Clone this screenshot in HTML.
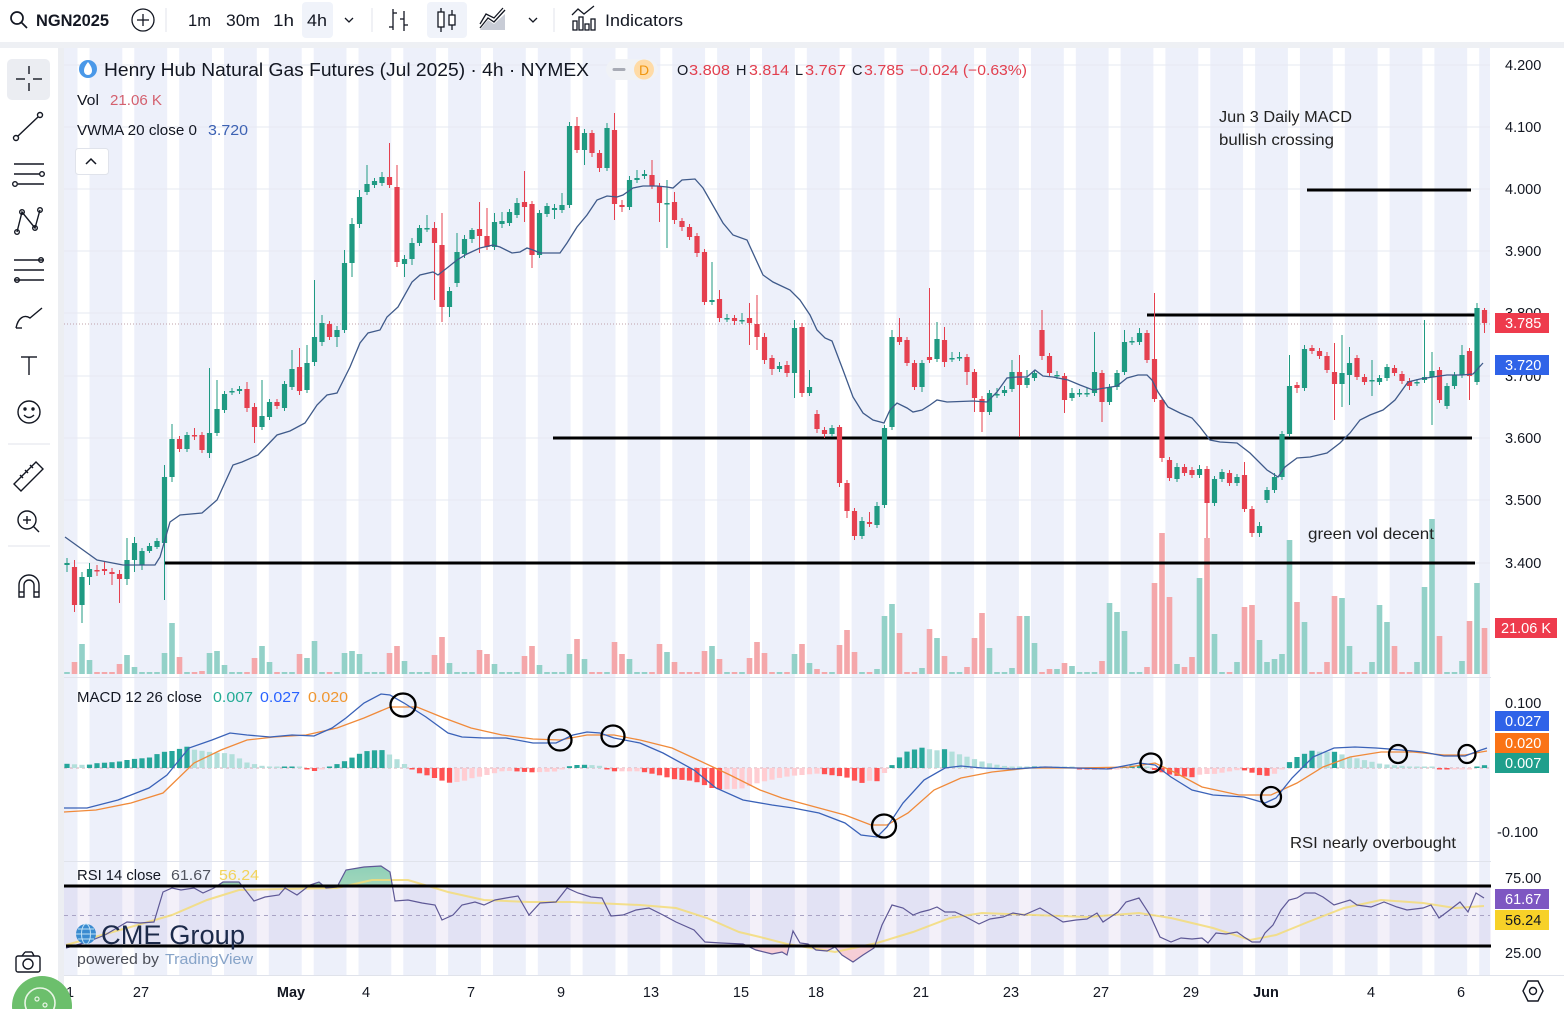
<!DOCTYPE html>
<html><head><meta charset="utf-8"><style>
html,body{margin:0;padding:0;background:#fff;}
body{width:1564px;height:1009px;overflow:hidden;font-family:"Liberation Sans",sans-serif;}
svg text{font-family:"Liberation Sans",sans-serif;}
</style></head><body>
<svg id="s" xmlns="http://www.w3.org/2000/svg" width="1564" height="1009" viewBox="0 0 1564 1009">
<defs>
<clipPath id="cpAbove"><rect x="60" y="840" width="1440" height="45.5"/></clipPath>
<clipPath id="cpBelow"><rect x="60" y="945.5" width="1440" height="40"/></clipPath>
<linearGradient id="gOB" x1="0" y1="0" x2="0" y2="1"><stop offset="0" stop-color="#8fd0b8"/><stop offset="1" stop-color="#e6f1c8"/></linearGradient>
<linearGradient id="gOS" x1="0" y1="0" x2="0" y2="1"><stop offset="0" stop-color="#f1e3ee"/><stop offset="1" stop-color="#f6ccd4"/></linearGradient>
</defs>
<rect x="0" y="0" width="1564" height="1009" fill="#ffffff"/>
<rect x="64" y="48" width="1426" height="927" fill="#edf0fa"/>
<g id="stripes"></g>
<rect x="58" y="48" width="6" height="961" fill="#eceef2"/>
<rect x="64" y="885.5" width="1428" height="60" fill="#7e57c2" fill-opacity="0.09"/>
<g stroke="#e6e9f2" stroke-width="1">
<line x1="64" y1="65" x2="1490" y2="65"/><line x1="64" y1="127" x2="1490" y2="127"/>
<line x1="64" y1="189" x2="1490" y2="189"/><line x1="64" y1="251" x2="1490" y2="251"/>
<line x1="64" y1="313" x2="1490" y2="313"/><line x1="64" y1="376" x2="1490" y2="376"/>
<line x1="64" y1="438" x2="1490" y2="438"/><line x1="64" y1="500" x2="1490" y2="500"/>
<line x1="64" y1="563" x2="1490" y2="563"/>
</g>
<line x1="64" y1="677.5" x2="1564" y2="677.5" stroke="#e0e3eb" stroke-width="1"/>
<line x1="64" y1="861.5" x2="1564" y2="861.5" stroke="#e0e3eb" stroke-width="1"/>
<line x1="64" y1="975.5" x2="1564" y2="975.5" stroke="#e0e3eb" stroke-width="1"/>
<g id="vol"></g>
<g stroke="#000" stroke-width="3">
<line x1="1307" y1="190" x2="1471" y2="190"/>
<line x1="1147" y1="315" x2="1475" y2="315"/>
<line x1="553" y1="438" x2="1472" y2="438"/>
<line x1="165" y1="563" x2="1475" y2="563"/>
</g>
<line x1="64" y1="324" x2="1490" y2="324" stroke="#bfa0aa" stroke-width="1" stroke-dasharray="1 2"/>
<g id="candles"></g>
<polyline id="vwma" fill="none" stroke="#3f5a8a" stroke-width="1.3"/>
<line x1="64" y1="768" x2="1490" y2="768" stroke="#d4a9b3" stroke-width="1" stroke-dasharray="3 3"/>
<g id="hist"></g>
<polyline id="sig" fill="none" stroke="#f08a3a" stroke-width="1.3"/>
<polyline id="macd" fill="none" stroke="#3a62b8" stroke-width="1.3"/>
<g fill="none" stroke="#000" stroke-width="2.3">
<ellipse cx="403" cy="705" rx="12.5" ry="11.5"/>
<ellipse cx="560" cy="740" rx="11.5" ry="10.5"/>
<ellipse cx="613" cy="736" rx="11.5" ry="10.5"/>
<ellipse cx="884" cy="826" rx="12" ry="11.5"/>
<ellipse cx="1151" cy="763" rx="10.5" ry="9.5"/>
<ellipse cx="1271" cy="797" rx="10" ry="10"/>
<ellipse cx="1398" cy="754" rx="9" ry="9"/>
<ellipse cx="1467" cy="754" rx="8.5" ry="9"/>
</g>
<polygon id="rsiOB" fill="url(#gOB)" clip-path="url(#cpAbove)"/>
<polygon id="rsiOS" fill="url(#gOS)" clip-path="url(#cpBelow)"/>
<line x1="64" y1="915.5" x2="1490" y2="915.5" stroke="#a9a3c4" stroke-width="1" stroke-dasharray="4 4"/>
<polyline id="rsima" fill="none" stroke="#f3dc78" stroke-width="2" stroke-opacity="0.85"/>
<polyline id="rsi" fill="none" stroke="#5e5896" stroke-width="1.2"/>
<g stroke="#000" stroke-width="3">
<line x1="64" y1="886" x2="1495" y2="886"/>
<line x1="66" y1="946" x2="1492" y2="946"/>
</g>

<circle cx="88" cy="69" r="9" fill="#4a98e8"/>
<path d="M88 62 C85 66 84 68 84 71 A4 4 0 0 0 92 71 C92 68 91 66 88 62Z" fill="#fff"/>
<text x="104" y="76" font-size="18" fill="#131722" textLength="485" lengthAdjust="spacingAndGlyphs">Henry Hub Natural Gas Futures (Jul 2025) · 4h · NYMEX</text>
<rect x="606" y="59" width="52" height="21" rx="10.5" fill="#f0f2f6"/>
<line x1="614" y1="69.5" x2="624" y2="69.5" stroke="#a8abb5" stroke-width="3" stroke-linecap="round"/>
<circle cx="644" cy="69.5" r="10" fill="#ffdba6"/>
<text x="644" y="75" font-size="14" fill="#f0960f" text-anchor="middle">D</text>
<g font-size="14.5">
<text x="677" y="75" fill="#131722">O</text><text x="689" y="75" fill="#e2404f" textLength="41" lengthAdjust="spacingAndGlyphs">3.808</text>
<text x="736" y="75" fill="#131722">H</text><text x="749" y="75" fill="#e2404f" textLength="40" lengthAdjust="spacingAndGlyphs">3.814</text>
<text x="795" y="75" fill="#131722">L</text><text x="805" y="75" fill="#e2404f" textLength="41" lengthAdjust="spacingAndGlyphs">3.767</text>
<text x="852" y="75" fill="#131722">C</text><text x="864" y="75" fill="#e2404f" textLength="40" lengthAdjust="spacingAndGlyphs">3.785</text>
<text x="910" y="75" fill="#e2404f" textLength="117" lengthAdjust="spacingAndGlyphs">−0.024 (−0.63%)</text>
</g>
<text x="77" y="105" font-size="14.5" fill="#131722" textLength="22" lengthAdjust="spacingAndGlyphs">Vol</text>
<text x="110" y="105" font-size="14.5" fill="#d4606e" textLength="52" lengthAdjust="spacingAndGlyphs">21.06 K</text>
<text x="77" y="135" font-size="14.5" fill="#131722" textLength="120" lengthAdjust="spacingAndGlyphs">VWMA 20 close 0</text>
<text x="208" y="135" font-size="14.5" fill="#3d62b3" textLength="40" lengthAdjust="spacingAndGlyphs">3.720</text>
<rect x="75.5" y="148.5" width="33" height="26" rx="3" fill="#fff" stroke="#e0e3eb"/>
<polyline points="86,164 91,159 96,164" fill="none" stroke="#131722" stroke-width="1.5"/>

<text x="77" y="702" font-size="14.5" fill="#131722" textLength="125" lengthAdjust="spacingAndGlyphs">MACD 12 26 close</text>
<text x="213" y="702" font-size="14.5" fill="#22ab94" textLength="40" lengthAdjust="spacingAndGlyphs">0.007</text>
<text x="260" y="702" font-size="14.5" fill="#2962ff" textLength="40" lengthAdjust="spacingAndGlyphs">0.027</text>
<text x="308" y="702" font-size="14.5" fill="#f0962f" textLength="40" lengthAdjust="spacingAndGlyphs">0.020</text>
<text x="77" y="880" font-size="14.5" fill="#131722" textLength="84" lengthAdjust="spacingAndGlyphs">RSI 14 close</text>
<text x="171" y="880" font-size="14.5" fill="#50535e" textLength="40" lengthAdjust="spacingAndGlyphs">61.67</text>
<text x="219" y="880" font-size="14.5" fill="#f2d35b" textLength="40" lengthAdjust="spacingAndGlyphs">56.24</text>

<text x="1219" y="122" font-size="16" fill="#222" textLength="133" lengthAdjust="spacingAndGlyphs">Jun 3 Daily MACD</text>
<text x="1219" y="145" font-size="16" fill="#222" textLength="115" lengthAdjust="spacingAndGlyphs">bullish crossing</text>
<text x="1308" y="539" font-size="16" fill="#222" textLength="126" lengthAdjust="spacingAndGlyphs">green vol decent</text>
<text x="1290" y="848" font-size="16" fill="#222" textLength="166" lengthAdjust="spacingAndGlyphs">RSI nearly overbought</text>

<circle cx="86" cy="934" r="10" fill="#3a8bd0"/>
<g stroke="#bfe0f5" stroke-width="1" fill="none"><ellipse cx="86" cy="934" rx="4.5" ry="10"/><line x1="76" y1="934" x2="96" y2="934"/><line x1="78" y1="929" x2="94" y2="929"/><line x1="78" y1="939" x2="94" y2="939"/></g>
<text x="101" y="944" font-size="27" fill="#1c2a4a" textLength="144" lengthAdjust="spacingAndGlyphs">CME Group</text>
<text x="77" y="964" font-size="15" fill="#4a4d57" textLength="82" lengthAdjust="spacingAndGlyphs">powered by</text>
<text x="165" y="964" font-size="15" fill="#86a3c8" textLength="88" lengthAdjust="spacingAndGlyphs">TradingView</text>

<rect x="1491" y="48" width="73" height="927" fill="#fff"/>
<g font-size="14.5" fill="#131722">
<text x="1505" y="70">4.200</text><text x="1505" y="132">4.100</text><text x="1505" y="194">4.000</text>
<text x="1505" y="256">3.900</text><text x="1505" y="318">3.800</text><text x="1505" y="381">3.700</text>
<text x="1505" y="443">3.600</text><text x="1505" y="505">3.500</text><text x="1505" y="568">3.400</text>
<text x="1505" y="708">0.100</text><text x="1497" y="837">-0.100</text>
<text x="1505" y="883">75.00</text><text x="1505" y="958">25.00</text>
</g>
<g font-size="14.5" fill="#fff">
<rect x="1495" y="313" width="54" height="20" fill="#ee3b4d"/><text x="1505" y="328">3.785</text>
<rect x="1495" y="355" width="54" height="20" fill="#2f63e8"/><text x="1505" y="370">3.720</text>
<rect x="1495" y="618" width="62" height="20" fill="#ee3b4d"/><text x="1501" y="633">21.06 K</text>
<rect x="1495" y="711" width="54" height="20" fill="#2f63e8"/><text x="1505" y="726">0.027</text>
<rect x="1495" y="733" width="54" height="20" fill="#fa7316"/><text x="1505" y="748">0.020</text>
<rect x="1495" y="753" width="54" height="20" fill="#1f9f8c"/><text x="1505" y="768">0.007</text>
<rect x="1495" y="889" width="54" height="20" fill="#7e57c2"/><text x="1505" y="904">61.67</text>
<rect x="1495" y="910" width="54" height="20" fill="#f7d128"/><text x="1505" y="925" fill="#131722">56.24</text>
</g>

<rect x="64" y="976" width="1500" height="33" fill="#fff"/>
<g font-size="14.5" fill="#131722" text-anchor="middle">
<text x="70" y="997">1</text>
<text x="141" y="997">27</text><text x="291" y="997" font-weight="bold">May</text><text x="366" y="997">4</text>
<text x="471" y="997">7</text><text x="561" y="997">9</text><text x="651" y="997">13</text>
<text x="741" y="997">15</text><text x="816" y="997">18</text><text x="921" y="997">21</text>
<text x="1011" y="997">23</text><text x="1101" y="997">27</text><text x="1191" y="997">29</text>
<text x="1266" y="997" font-weight="bold">Jun</text><text x="1371" y="997">4</text><text x="1461" y="997">6</text>
</g>
<g fill="none" stroke="#131722" stroke-width="1.4">
<path d="M1528 981 L1538 981 L1543 991 L1538 1001 L1528 1001 L1523 991 Z"/><circle cx="1533" cy="991" r="3.5"/>
</g>

<rect x="0" y="0" width="1564" height="42" fill="#fff"/>
<rect x="0" y="42" width="1564" height="6" fill="#eef0f4"/>
<g fill="none" stroke="#131722" stroke-width="1.7">
<circle cx="17" cy="18" r="6"/><line x1="21.5" y1="22.5" x2="27" y2="28"/>
<circle cx="143" cy="20" r="11" stroke-width="1.3"/><line x1="137" y1="20" x2="149" y2="20" stroke-width="1.3"/><line x1="143" y1="14" x2="143" y2="26" stroke-width="1.3"/>
<polyline points="345,18 349,22 353,18" stroke-width="1.3"/>
<polyline points="529,18 533,22 537,18" stroke-width="1.3"/>
</g>
<text x="36" y="26" font-size="16.5" fill="#131722" font-weight="bold" textLength="73" lengthAdjust="spacingAndGlyphs">NGN2025</text>
<g stroke="#e0e3eb"><line x1="166" y1="8" x2="166" y2="32"/><line x1="372" y1="8" x2="372" y2="32"/><line x1="554" y1="8" x2="554" y2="32"/></g>
<rect x="302" y="2" width="31" height="36" rx="4" fill="#f0f3fa"/>
<rect x="427" y="2" width="40" height="36" rx="4" fill="#f0f3fa"/>
<g font-size="16.5" fill="#131722">
<text x="188" y="26" textLength="23" lengthAdjust="spacingAndGlyphs">1m</text>
<text x="226" y="26" textLength="34" lengthAdjust="spacingAndGlyphs">30m</text>
<text x="273" y="26" textLength="21" lengthAdjust="spacingAndGlyphs">1h</text>
<text x="307" y="26" textLength="20" lengthAdjust="spacingAndGlyphs">4h</text>
<text x="605" y="26" textLength="78" lengthAdjust="spacingAndGlyphs">Indicators</text>
</g>
<g fill="none" stroke="#131722" stroke-width="1.3">
<line x1="393" y1="9" x2="393" y2="30"/><line x1="389" y1="27" x2="393" y2="27"/><line x1="393" y1="13" x2="397" y2="13"/>
<line x1="404" y1="11" x2="404" y2="31"/><line x1="400" y1="19" x2="404" y2="19"/><line x1="404" y1="25" x2="408" y2="25"/>
<line x1="441" y1="8" x2="441" y2="32"/><rect x="438" y="12" width="6" height="15" fill="#fff"/>
<line x1="452" y1="10" x2="452" y2="30"/><rect x="449" y="15" width="6" height="10" fill="#fff"/>
<polyline points="480,28 488,18 494,22 505,10"/><polyline points="480,24 486,14 494,18 503,8"/>
<path d="M480 30 L505 30 L505 14 L494 24 L488 20 Z" fill="#c8ccd6" stroke="none"/>
<rect x="573" y="21" width="4" height="9"/><rect x="579" y="17" width="4" height="13"/><rect x="585" y="24" width="4" height="6"/><rect x="591" y="19" width="4" height="11"/>
<polyline points="572,15 578,9 584,14 594,6"/>
</g>

<rect x="0" y="48" width="58" height="961" fill="#fff"/>
<rect x="7" y="59" width="43" height="41" rx="5" fill="#ebedf2"/>
<g fill="none" stroke="#131722" stroke-width="1.4">
<line x1="29" y1="66" x2="29" y2="74"/><line x1="29" y1="83" x2="29" y2="91"/><line x1="16" y1="79" x2="25" y2="79"/><line x1="33" y1="79" x2="42" y2="79"/>
<line x1="18" y1="136" x2="38" y2="117"/><circle cx="16" cy="138" r="2.5"/><circle cx="40" cy="115" r="2.5"/>
<line x1="14" y1="164" x2="44" y2="164"/><line x1="14" y1="174" x2="40" y2="174"/><circle cx="42" cy="174" r="2.3"/><line x1="18" y1="184" x2="44" y2="184"/><circle cx="15" cy="184" r="2.3"/>
<polyline points="17,232 22,212 35,228 40,210"/><circle cx="17" cy="232" r="2.3"/><circle cx="22" cy="212" r="2.3"/><circle cx="35" cy="228" r="2.3"/><circle cx="40" cy="210" r="2.3"/>
<line x1="14" y1="260" x2="44" y2="260"/><line x1="14" y1="270" x2="44" y2="270"/><line x1="14" y1="280" x2="44" y2="280"/><circle cx="17" cy="280" r="2.3"/><circle cx="41" cy="260" r="2.3"/>
<path d="M16 328 C18 318 24 314 30 318 L42 308"/><path d="M16 328 L22 328"/>
<line x1="21" y1="357" x2="37" y2="357"/><line x1="29" y1="357" x2="29" y2="375"/>
<circle cx="29" cy="412" r="11"/><circle cx="25" cy="409" r="1" fill="#131722"/><circle cx="33" cy="409" r="1" fill="#131722"/><path d="M24 415 Q29 420 34 415"/>
<path d="M14 484 L36 462 L43 469 L21 491 Z"/><line x1="20" y1="475" x2="23" y2="478"/><line x1="25" y1="470" x2="28" y2="473"/><line x1="30" y1="465" x2="33" y2="468"/>
<circle cx="27" cy="520" r="9"/><line x1="33.5" y1="526.5" x2="39" y2="532"/><line x1="23" y1="520" x2="31" y2="520"/><line x1="27" y1="516" x2="27" y2="524"/>
<path d="M19 597 L19 585 A10 10 0 0 1 39 585 L39 597 L34 597 L34 585 A5 5 0 0 0 24 585 L24 597 Z"/><line x1="19" y1="592" x2="24" y2="592"/><line x1="34" y1="592" x2="39" y2="592"/>
<rect x="16" y="956" width="24" height="16" rx="2"/><circle cx="28" cy="964" r="5"/><line x1="22" y1="956" x2="25" y2="952"/><line x1="25" y1="952" x2="32" y2="952"/><line x1="32" y1="952" x2="34" y2="956"/>
</g>
<g stroke="#e0e3eb"><line x1="8" y1="444" x2="50" y2="444"/><line x1="8" y1="546" x2="50" y2="546"/></g>
<circle cx="42" cy="1006" r="30" fill="#6cbf6c"/>
<circle cx="40" cy="1003" r="15" fill="none" stroke="#e8f5e4" stroke-width="1.6"/>
<circle cx="37" cy="999" r="2" fill="none" stroke="#e8f5e4" stroke-width="1.2"/>
<circle cx="45" cy="1005" r="2" fill="none" stroke="#e8f5e4" stroke-width="1.2"/>
</svg>
<script>
(function(){
var NS='http://www.w3.org/2000/svg';
function el(t,a,p){var e=document.createElementNS(NS,t);for(var k in a)e.setAttribute(k,a[k]);p.appendChild(e);return e;}
function $(id){return document.getElementById(id);}
var st=$('stripes');
for(var n=-4;n<=29;n++){var c=218+44.83*n;var x0=c-6,x1=c+6;if(x1<64||x0>1490)continue;x0=Math.max(64,x0);x1=Math.min(1490,x1);
el('rect',{x:x0.toFixed(1),y:48,width:(x1-x0).toFixed(1),height:927,fill:'#ffffff'},st);}
var C=[[565,563,558,572],[567,605,560,612],[605,577,572,623],[577,569,563,585],[570,571,565,576],[569,571,562,575],[572,574,568,585],[574,579,570,603],[579,560,538,585],[560,543,537,572],
[565,551,548,570],[551,546,543,553],[547,541,538,549],[543,477,465,600],[477,439,424,482],[439,449,436,452],[449,435,432,452],[435,436,428,440],[435,450,432,453],[453,433,368,458],
[433,409,380,436],[410,394,391,413],[392,391,388,395],[391,389,386,394],[389,408,382,412],[407,427,403,443],[427,416,380,430],[417,402,399,420],[402,406,399,409],[408,384,381,411],
[387,369,350,390],[367,391,348,395],[390,363,345,393],[362,337,280,366],[342,323,315,346],[324,337,321,340],[337,330,326,347],[330,263,250,333],[263,224,218,277],[224,197,190,228],
[192,184,165,195],[185,181,178,188],[183,177,172,186],[177,185,143,188],[187,262,165,267],[264,259,255,277],[259,243,238,265],[243,228,225,246],[228,228,215,232],[228,243,222,300],
[245,307,213,322],[307,291,287,317],[283,252,233,287],[254,239,235,258],[239,230,228,243],[229,236,202,253],[236,247,208,250],[247,222,213,250],[224,221,212,228],[223,212,209,226],
[215,203,198,218],[202,207,171,222],[204,255,201,268],[255,213,210,258],[214,206,203,217],[210,208,204,219],[210,205,193,213],[205,126,122,208],[126,150,117,153],[150,133,129,165],
[133,153,130,157],[153,168,150,172],[168,128,123,171],[130,204,113,220],[205,207,200,212],[207,180,176,210],[180,178,170,183],[176,174,170,179],[175,186,160,189],[186,203,183,222],
[203,203,180,248],[202,220,192,224],[221,227,218,231],[227,237,224,240],[236,253,233,257],[252,302,249,305],[302,300,262,305],[299,318,290,322],[318,318,314,322],[318,321,315,325],
[320,320,313,324],[318,323,303,345],[324,337,295,350],[337,360,333,364],[358,369,355,375],[369,366,362,372],[365,373,361,377],[373,328,320,398],[327,393,323,397],[393,387,370,396],
[414,429,410,433],[430,434,427,438],[434,428,425,437],[427,483,425,487],[483,511,480,518],[511,536,508,540],[536,521,517,539],[522,524,512,527],[525,506,502,528],[505,428,425,508],
[427,337,330,430],[337,342,318,345],[340,363,337,366],[363,387,360,390],[387,363,360,392],[357,360,288,363],[359,339,322,362],[340,362,327,367],[358,358,352,362],[357,357,352,361],
[357,372,354,385],[372,398,369,412],[399,412,396,432],[412,393,390,415],[394,394,388,398],[393,390,386,396],[389,372,360,392],[372,385,355,437],[385,378,370,388],[378,373,370,381],
[330,356,310,360],[356,373,353,376],[375,375,371,379],[376,400,373,413],[398,393,388,401],[393,393,389,397],[393,393,388,397],[393,372,332,396],[373,402,370,422],[402,387,384,405],
[387,373,370,390],[372,342,330,375],[341,341,337,345],[342,333,328,345],[333,360,330,363],[359,399,293,402],[400,458,397,462],[460,478,457,481],[479,467,463,482],[467,473,464,476],
[470,475,467,478],[475,469,465,478],[469,503,466,538],[503,479,476,506],[479,472,469,482],[473,483,470,486],[483,477,474,486],[475,509,462,512],[509,533,506,537],[533,526,522,537],
[500,490,487,503],[490,477,473,493],[477,434,431,480],[434,386,355,437],[385,388,382,393],[388,349,345,391],[348,351,345,354],[351,356,348,359],[356,370,352,373],[372,384,343,420],
[384,373,335,407],[375,363,347,405],[358,377,355,380],[377,382,374,385],[380,380,360,396],[382,378,375,385],[378,367,364,381],[368,373,365,376],[374,381,371,384],[381,386,378,390],
[383,382,379,386],[380,377,320,383],[377,371,352,425],[370,400,367,403],[406,386,383,409],[386,375,372,389],[375,355,345,378],[351,376,348,400],[382,308,303,385],[310,323,308,333]];
var V={1:12,2:30,3:14,7:10,8:19,9:7,13:21,14:51,15:17,18:3,19:21,20:23,21:9,25:16,26:28,27:12,31:20,32:16,33:33,37:21,38:23,39:20,43:21,44:28,45:13,49:19,50:37,51:11,55:24,56:20,57:10,61:18,62:28,63:9,67:20,68:35,69:15,73:32,74:20,75:15,79:30,80:22,81:12,85:23,86:28,87:15,91:16,92:32,93:21,97:20,98:30,99:11,100:5,103:29,104:44,105:22,108:5,109:58,110:70,111:41,114:6,115:45,116:36,117:18,120:7,121:36,122:61,123:26,126:6,127:58,128:58,129:31,131:5,132:5,133:11,134:8,138:13,139:71,140:62,141:43,144:7,145:91,146:141,147:77,148:10,149:7,150:17,151:96,152:136,153:40,156:12,157:67,158:69,159:34,160:12,161:15,162:20,163:134,164:72,165:52,168:12,169:78,170:76,171:28,174:12,175:69,176:52,177:28,180:12,181:87,182:155,183:38,186:13,187:53,188:91,189:46};
var vg=$('vol'),cg=$('candles');
for(var i=0;i<C.length;i++){
 var x=67+7.5*i,d=C[i],o=d[0],c=d[1],h=d[2],l=d[3];
 var up=c<=o;var col=up?'#1f9a82':'#e5404f';
 var vh=V[i]||2;
 el('rect',{x:(x-2.8).toFixed(1),y:(674-vh),width:5.6,height:vh,fill:up?'#93d1c8':'#f4a7aa'},vg);
 el('line',{x1:x,y1:h,x2:x,y2:l,stroke:col,'stroke-width':1},cg);
 var t=Math.min(o,c),bh=Math.max(1.5,Math.abs(o-c));
 el('rect',{x:(x-2.6).toFixed(1),y:t,width:5.2,height:bh,fill:col},cg);
}
function P(s){return s.trim().split(/\s+/).map(function(p){var a=p.split(',');return [+a[0],+a[1]];});}
function S(a){return a.map(function(p){return p[0]+','+p[1];}).join(' ');}
var vw=P("65,537 97,560 123,565 155,565 160,557 170,522 180,515 202,513 217,500 233,465 242,462 258,455 277,435 290,431 305,423 317,405 327,395 337,393 350,367 360,343 368,333 380,330 387,317 398,307 412,282 420,275 433,272 438,275 447,268 457,260 467,254 480,248 493,245 500,247 512,253 520,252 527,248 533,250 540,253 560,253 567,243 577,227 587,215 597,200 607,196 617,197 623,195 633,188 643,186 657,186 667,187 673,188 682,180 695,179 703,188 723,223 733,235 747,240 763,275 773,282 790,290 800,300 810,315 817,330 825,338 832,341 843,370 853,397 863,413 873,420 884,423 890,410 897,403 907,408 913,412 922,410 930,405 937,400 947,402 973,401 987,402 997,392 1007,378 1017,377 1027,377 1035,370 1043,376 1053,377 1068,380 1080,385 1093,390 1117,386 1127,378 1138,375 1147,375 1152,380 1158,392 1168,407 1180,413 1192,418 1200,427 1210,440 1220,442 1237,443 1250,453 1267,470 1278,477 1285,467 1297,458 1310,457 1327,453 1340,443 1350,433 1360,420 1370,415 1383,410 1395,400 1408,382 1420,379 1433,377 1447,375 1462,375 1473,374 1483,363");
$('vwma').setAttribute('points',S(vw));
var mb=P("64,808 87,808 118,800 149,788 167,775 189,748 212,740 230,733 247,735 270,737 292,735 314,736 332,728 346,718 364,703 381,694 390,695 404,703 426,717 448,733 462,737 484,738 506,738 533,743 556,743 573,735 587,732 600,733 614,738 640,743 663,753 694,770 716,788 743,800 772,805 793,808 819,813 845,823 861,835 877,837 887,827 903,803 924,780 945,768 961,766 982,768 1013,769 1045,767 1076,768 1108,769 1139,763 1155,765 1171,777 1192,790 1213,795 1244,797 1265,803 1276,798 1292,778 1313,757 1334,748 1355,747 1376,748 1402,750 1423,752 1444,756 1465,756 1481,750 1487,748");
var ms=P("64,812 96,810 131,803 163,793 194,763 221,750 247,740 274,737 306,735 337,728 364,718 390,707 417,707 444,718 471,728 502,735 533,739 560,740 587,735 614,735 640,740 672,748 698,760 730,775 760,790 782,798 819,808 845,815 871,825 887,825 908,813 934,790 961,778 992,772 1029,768 1076,768 1129,767 1155,763 1176,773 1202,787 1239,795 1271,795 1297,783 1323,767 1350,757 1381,752 1413,752 1444,755 1465,755 1481,752 1487,751");
$('macd').setAttribute('points',S(mb));$('sig').setAttribute('points',S(ms));
function I(a,x){if(x<=a[0][0])return a[0][1];for(var k=1;k<a.length;k++){if(x<=a[k][0]){var t=(x-a[k-1][0])/(a[k][0]-a[k-1][0]);return a[k-1][1]+t*(a[k][1]-a[k-1][1]);}}return a[a.length-1][1];}
var hg=$('hist'),prev=0;
for(var i=0;i<190;i++){var x=67+7.5*i;var hv=(I(ms,x)-I(mb,x))*1.1;var col;
 if(hv>=0)col=(hv>=prev)?'#26a69a':'#b2dfdb';else col=(hv<prev)?'#ff5252':'#ffcdd2';
 var hh=Math.max(1.5,Math.abs(hv));var y=hv>=0?768-hh:768;
 el('rect',{x:(x-2.6).toFixed(1),y:y.toFixed(1),width:5.2,height:hh.toFixed(1),fill:col},hg);prev=hv;}
var r=P("66,948 87,942 105,935 127,922 140,923 154,922 163,892 172,888 181,890 194,888 203,893 214,888 223,882 239,882 254,901 265,897 279,895 285,888 297,895 310,885 319,882 326,888 337,887 346,870 364,867 381,866 390,872 395,901 408,900 422,903 435,905 442,920 453,915 462,905 475,902 484,905 495,900 506,898 518,896 529,915 540,903 556,902 567,888 578,893 591,897 602,898 611,916 623,915 636,910 649,908 663,915 676,922 694,930 705,942 721,943 743,944 756,950 772,954 782,952 787,955 793,931 800,943 808,944 816,950 827,951 835,947 842,955 853,962 863,955 874,948 882,925 892,905 903,908 913,915 921,912 929,910 937,907 945,912 955,912 966,917 979,924 990,919 1003,917 1013,913 1024,915 1040,908 1050,914 1063,922 1076,920 1087,919 1097,913 1103,922 1118,912 1126,902 1139,898 1150,915 1160,937 1171,942 1181,938 1192,939 1202,938 1208,943 1216,933 1226,934 1237,932 1244,937 1252,942 1260,942 1265,933 1273,925 1281,910 1289,900 1297,898 1305,893 1315,893 1323,897 1334,905 1350,900 1357,905 1371,907 1384,902 1397,907 1407,910 1423,908 1431,905 1439,918 1447,912 1460,902 1468,912 1476,893 1484,898");
var rm=P("66,945 127,928 172,915 207,900 239,890 283,889 337,888 372,880 408,880 448,892 484,900 529,902 573,902 640,905 676,908 707,918 739,932 760,937 787,944 835,952 877,943 913,932 950,918 982,913 1034,915 1087,917 1139,913 1171,918 1213,928 1250,940 1276,935 1308,922 1344,908 1381,900 1423,903 1455,908 1484,906");
$('rsi').setAttribute('points',S(r));$('rsima').setAttribute('points',S(rm));
$('rsiOB').setAttribute('points',S(r)+' 1484,885.5 66,885.5');
$('rsiOS').setAttribute('points',S(r)+' 1484,945.5 66,945.5');
})();
</script>
</body></html>
